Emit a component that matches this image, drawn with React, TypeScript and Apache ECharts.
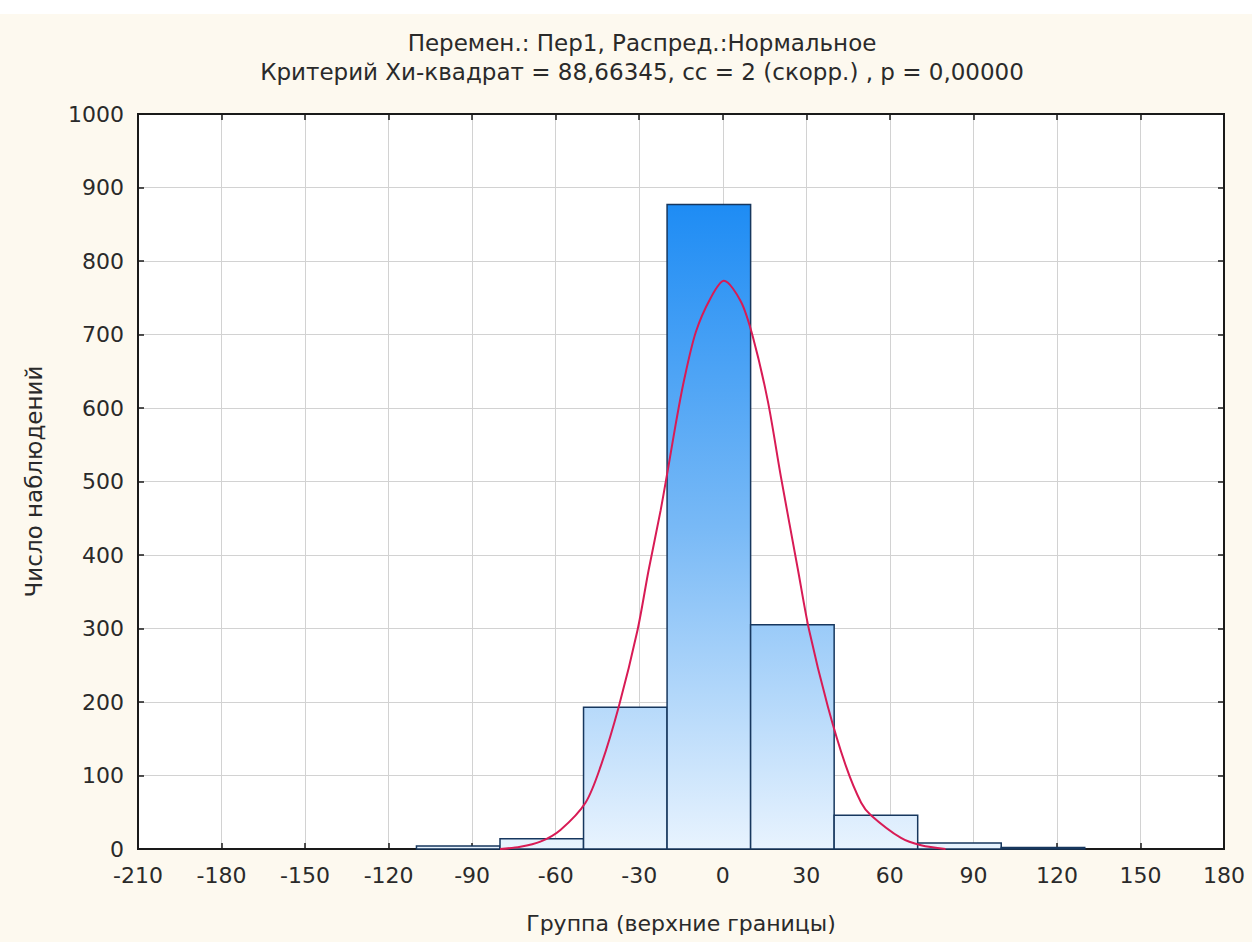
import React, { useEffect, useRef } from "react";
import * as echarts from "echarts";

// Histogram bins (lower / upper bounds) and observed counts
const binLower = [-110, -80, -50, -20, 10, 40, 70, 100];
const binUpper = [-80, -50, -20, 10, 40, 70, 100, 130];
const counts = [4, 14, 193, 877, 305, 46, 8, 2];

// Fitted normal curve
const curveX = [-80, -72.7, -65.5, -58.3, -49.3, -43.9, -37.4, -30.6, -26.6, -22.3, -19.4, -16.9, -14, -9.7, -4.3, 0.4, 6.5, 10.8, 16.2, 20.9, 27, 31, 37.8, 44.3, 49.7, 53.2, 64, 71.2, 80];
const curveY = [0, 3, 10, 26, 63, 112, 193, 298, 380, 461, 523, 578, 636, 703, 750, 773, 745, 697, 609, 506, 380, 298, 193, 112, 63, 46, 15, 5, 0];

const titleLine1 = "Перемен.: Пер1, Распред.:Нормальное";
const titleLine2 = "Критерий Хи-квадрат = 88,66345, сс = 2 (скорр.) , р = 0,00000";
const xTitle = "Группа (верхние границы)";
const yTitle = "Число наблюдений";

const FONT = "DejaVu Sans";

export default function App() {
  const ref = useRef<HTMLDivElement>(null);
  useEffect(() => {
    if (!ref.current) return;
    const chart = echarts.init(ref.current, null, { renderer: "svg" });
    const barData = counts.map((c, i) => [binLower[i], binUpper[i], c]);
    const lineData = curveX.map((x, i) => [x, curveY[i]]);
    const tickStyle = { show: true, inside: true, length: 6, lineStyle: { color: "#1a1a1a", width: 1.5 } };
    const axisLine = { show: true, onZero: false, lineStyle: { color: "#1a1a1a", width: 2 } };
    const splitLine = { show: true, lineStyle: { color: "#d2d2d2", width: 1 } };
    const label = { fontFamily: FONT, fontSize: 22, color: "#2a2a2a", formatter: (v: number) => String(v) };
    chart.setOption({
      animation: false,
      backgroundColor: "#fdf9ef",
      textStyle: { fontFamily: FONT },
      graphic: [
        { type: "rect", shape: { x: 0, y: 0, width: 1252, height: 14 }, style: { fill: "#ffffff" }, silent: true },
      ],
      title: {
        text: titleLine1 + "\n" + titleLine2,
        left: 637,
        top: 23,
        textAlign: "center",
        textStyle: { fontFamily: FONT, fontSize: 23, fontWeight: "normal", color: "#2a2a2a", lineHeight: 29 },
      },
      grid: {
        left: 138,
        right: 28,
        top: 114,
        bottom: 93,
        show: true,
        backgroundColor: "#ffffff",
        borderColor: "#1a1a1a",
        borderWidth: 2,
      },
      xAxis: [
        {
          type: "value",
          position: "bottom",
          min: -210,
          max: 180,
          interval: 30,
          axisLine,
          axisTick: tickStyle,
          splitLine,
          axisLabel: { ...label, margin: 15 },
          name: xTitle,
          nameLocation: "middle",
          nameGap: 63,
          nameTextStyle: { fontFamily: FONT, fontSize: 22, color: "#2a2a2a" },
        },
        {
          type: "value",
          position: "top",
          min: -210,
          max: 180,
          interval: 30,
          axisLine,
          axisTick: tickStyle,
          splitLine: { show: false },
          axisLabel: { show: false },
        },
      ],
      yAxis: [
        {
          type: "value",
          position: "left",
          min: 0,
          max: 1000,
          interval: 100,
          axisLine,
          axisTick: tickStyle,
          splitLine,
          axisLabel: { ...label, margin: 14 },
          name: yTitle,
          nameLocation: "middle",
          nameGap: 93,
          nameTextStyle: { fontFamily: FONT, fontSize: 23, color: "#2a2a2a" },
        },
        {
          type: "value",
          position: "right",
          min: 0,
          max: 1000,
          interval: 100,
          axisLine,
          axisTick: tickStyle,
          splitLine: { show: false },
          axisLabel: { show: false },
        },
      ],
      series: [
        {
          type: "custom",
          xAxisIndex: 0,
          yAxisIndex: 0,
          data: barData,
          encode: { x: [0, 1], y: 2 },
          renderItem: (params: any, api: any) => {
            const p0 = api.coord([api.value(0), api.value(2)]);
            const p1 = api.coord([api.value(1), 0]);
            const gTop = api.coord([0, 877])[1];
            const gBot = api.coord([0, 0])[1];
            return {
              type: "rect",
              shape: { x: p0[0], y: p0[1], width: p1[0] - p0[0], height: p1[1] - p0[1] },
              style: {
                fill: new echarts.graphic.LinearGradient(
                  0, gTop, 0, gBot,
                  [
                    { offset: 0, color: "#1e8cf4" },
                    { offset: 0.5, color: "#78b9f6" },
                    { offset: 1, color: "#e8f3fe" },
                  ],
                  true
                ),
                stroke: "#17375e",
                lineWidth: 1.5,
              },
            };
          },
          z: 2,
        },
        {
          type: "line",
          xAxisIndex: 0,
          yAxisIndex: 0,
          data: lineData,
          smooth: 0.3,
          showSymbol: false,
          symbol: "none",
          lineStyle: { color: "#d81b55", width: 2 },
          z: 3,
        },
      ],
    });
    return () => chart.dispose();
  }, []);
  return (
    <div
      ref={ref}
      style={{ position: "absolute", left: 0, top: 0, width: 1252, height: 942 }}
    />
  );
}
